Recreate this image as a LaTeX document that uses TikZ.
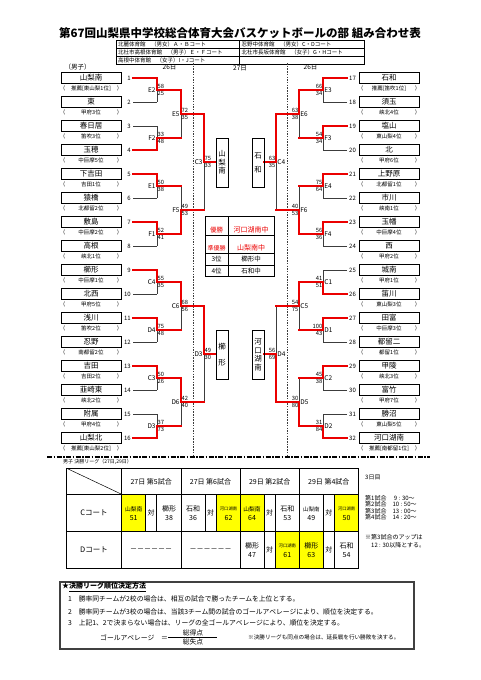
\documentclass[tikz,border=0pt]{standalone}
\usepackage{fontspec}
\setmainfont{Noto Sans CJK JP}
\usetikzlibrary{calc}

\newcommand{\fsz}[1]{\fontsize{#1}{#1}\selectfont}
\definecolor{winRed}{RGB}{235,0,0}
\definecolor{lineGray}{RGB}{60,60,60}
\definecolor{cellYellow}{RGB}{255,255,0}
\pgfdeclarelayer{back}
\pgfsetlayers{back,main}

% one match: vertical at #1, output towards #2, inputs at #3/#4,
% label #5, scores #6/#7, winner #8 (0 top, 1 bottom), red output #9
\newcommand{\game}[9]{%
  \pgfmathsetmacro{\gym}{(#3+#4)/2}%
  \pgfmathsetmacro{\gyw}{#8==0 ? #3 : #4}%
  \begin{pgfonlayer}{back}
    \draw[bline] (#1,#3) -- (#1,#4) (#1,\gym) -- (#2,\gym);
  \end{pgfonlayer}
  \ifnum#9=1
    \draw[rline] (#1,\gyw) -- (#1,\gym) -- (#2,\gym);
  \else
    \draw[rline] (#1,\gyw) -- (#1,\gym);
  \fi
  \ifdim#2pt>#1pt
    \node[glab, anchor=east] (g#5x#1) at (#1-1.2,\gym) {#5};
    \node[gsc, anchor=west] (g#5x#1a) at (#1+0.4,\gym-3.6) {#6};
    \node[gsc, anchor=west] (g#5x#1b) at (#1+0.4,\gym+3.6) {#7};
  \else
    \node[glab, anchor=west] (g#5x#1) at (#1+1.2,\gym) {#5};
    \node[gsc, anchor=east] (g#5x#1a) at (#1-0.4,\gym-3.6) {#6};
    \node[gsc, anchor=east] (g#5x#1b) at (#1-0.4,\gym+3.6) {#7};
  \fi
}

\tikzset{
  bline/.style={draw=lineGray, line width=0.9pt},
  rline/.style={draw=winRed, line width=1.8pt, line cap=rect},
  tline/.style={draw=black, line width=0.8pt},
  teambox/.style={draw=black, line width=0.9pt, minimum width=60pt, minimum height=11.7pt, inner sep=0pt, font=\fsz{7.5}},
  capt/.style={inner sep=0pt, font=\fsz{5.5}},
  tnum/.style={inner sep=0.5pt, font=\fsz{6}},
  glab/.style={inner sep=0pt, font=\fsz{6.5}},
  gsc/.style={inner sep=0pt, font=\fsz{5.8}},
  cbox/.style={draw=black, line width=0.9pt, minimum width=12pt, minimum height=49pt, inner sep=0pt, align=center, font=\fontsize{7.5}{8.5}\selectfont},
  htext/.style={inner sep=0pt, anchor=west, font=\fsz{5.5}},
  ltext/.style={inner sep=0pt, font=\fsz{7}},
}

\begin{document}
\begin{tikzpicture}[x=1pt, y=-1pt, line join=miter]
  \useasboundingbox (0,0) rectangle (481,680);

  % title and venue table
  \node[inner sep=0pt, font=\fsz{11.5}\bfseries] (title) at (240,33) {第67回山梨県中学校総合体育大会バスケットボールの部 組み合わせ表};
  \draw[tline, line width=0.5pt] (116,40) rectangle (364,64.3);
  \draw[tline, line width=0.5pt] (116,48.7) -- (364,48.7) (116,56.7) -- (364,56.7) (239.3,40) -- (239.3,64.3);
  \node[htext] (v1) at (118,44.4) {北麓体育館　（男女）Ａ・Ｂコート};
  \node[htext] (v2) at (241.5,44.4) {忍野中体育館　（男女）C・Dコート};
  \node[htext] (v3) at (118,52.7) {北杜市高根体育館　（男子）Ｅ・Ｆコート};
  \node[htext] (v4) at (241.5,52.7) {北杜市長坂体育館　（女子）G・Hコート};
  \node[htext] (v5) at (118,60.5) {高根中体育館　（女子）I・Jコート};

  % day labels and dashed day borders
  \node[inner sep=0pt, font=\fsz{6.5}] (boys) at (77.5,67) {（男子）};
  \node[inner sep=0pt, font=\fsz{6.5}] (dayL) at (169.5,67.5) {26日};
  \node[inner sep=0pt, font=\fsz{6.5}] (dayC) at (240,68) {27日};
  \node[inner sep=0pt, font=\fsz{6.5}] (dayR) at (310.5,67.5) {26日};
  \draw[lineGray, line width=0.5pt, dash pattern=on 1.5pt off 1.2pt] (193,63) -- (193,455);
  \draw[lineGray, line width=0.5pt, dash pattern=on 1.5pt off 1.2pt] (287,63) -- (287,455);
  \draw[black, line width=1.4pt, dash pattern=on 5pt off 1.5pt on 1.5pt off 1.5pt] (47,457) -- (430,457);

  % left teams
  \foreach \i/\nm/\cp in {1/山梨南/推薦[東山梨1位], 2/東/甲府3位, 3/春日居/笛吹3位, 4/玉穂/中巨摩5位,
      5/下吉田/吉田1位, 6/猿橋/北都留2位, 7/敷島/中巨摩2位, 8/高根/峡北1位,
      9/櫛形/中巨摩1位, 10/北西/甲府5位, 11/浅川/笛吹2位, 12/忍野/南都留2位,
      13/吉田/吉田2位, 14/韮崎東/峡北2位, 15/附属/甲府4位, 16/山梨北/推薦[東山梨2位]}{
    \pgfmathsetmacro{\ty}{78+24*(\i-1)}
    \node[teambox] (t\i) at (91,\ty) {\nm};
    \node[capt] (c\i) at (91,\ty+10.3) {\cp};
    \node[capt] (cl\i) at (62.5,\ty+10.3) {（};
    \node[capt] (cr\i) at (119.5,\ty+10.3) {）};
    \node[tnum, anchor=east] (n\i) at (131.5,\ty) {\i};
    \begin{pgfonlayer}{back}
      \draw[bline] (133,\ty) -- (157,\ty);
    \end{pgfonlayer}
  }

  % right teams
  \foreach \i/\nm/\cp in {17/石和/推薦[笛吹1位], 18/須玉/峡北4位, 19/塩山/東山梨4位, 20/北/甲府6位,
      21/上野原/北都留1位, 22/市川/峡南1位, 23/玉幡/中巨摩4位, 24/西/甲府2位,
      25/城南/甲府1位, 26/笛川/東山梨3位, 27/田富/中巨摩3位, 28/都留二/都留1位,
      29/甲陵/峡北3位, 30/富竹/甲府7位, 31/勝沼/東山梨5位, 32/河口湖南/推薦[南都留1位]}{
    \pgfmathsetmacro{\ty}{78+24*(\i-17)}
    \node[teambox] (t\i) at (389,\ty) {\nm};
    \node[capt] (c\i) at (389,\ty+10.3) {\cp};
    \node[capt] (cl\i) at (360.5,\ty+10.3) {（};
    \node[capt] (cr\i) at (417.5,\ty+10.3) {）};
    \node[tnum, anchor=west] (n\i) at (348.5,\ty) {\i};
    \begin{pgfonlayer}{back}
      \draw[bline] (347,\ty) -- (323,\ty);
    \end{pgfonlayer}
  }

  % winners of the first round
  \foreach \i in {1,4,5,7,9,11,13,16}{
    \pgfmathsetmacro{\ty}{78+24*(\i-1)}
    \draw[rline] (133,\ty) -- (157,\ty);
  }
  \foreach \i in {17,19,21,23,26,27,29,32}{
    \pgfmathsetmacro{\ty}{78+24*(\i-17)}
    \draw[rline] (347,\ty) -- (323,\ty);
  }

  % left bracket
  \game{157}{181}{78}{102}{E2}{58}{25}{0}{1}
  \game{157}{181}{126}{150}{F2}{33}{48}{1}{1}
  \game{157}{181}{174}{198}{E1}{50}{38}{0}{1}
  \game{157}{181}{222}{246}{F1}{52}{41}{0}{1}
  \game{157}{181}{270}{294}{C4}{55}{35}{0}{1}
  \game{157}{181}{318}{342}{D4}{75}{48}{0}{1}
  \game{157}{181}{366}{390}{C3}{50}{26}{0}{1}
  \game{157}{181}{414}{438}{D3}{37}{73}{1}{1}
  \game{181}{204}{90}{138}{E5}{72}{35}{0}{1}
  \game{181}{204}{186}{234}{F5}{49}{53}{1}{1}
  \game{181}{204}{282}{330}{C6}{68}{56}{0}{1}
  \game{181}{204}{378}{426}{D6}{42}{40}{0}{1}
  \game{204}{216}{114}{210}{C3}{75}{33}{0}{1}
  \game{204}{216}{306}{402}{D3}{49}{30}{0}{1}

  % right bracket
  \game{323}{299}{78}{102}{E3}{66}{34}{0}{1}
  \game{323}{299}{126}{150}{F3}{54}{34}{0}{1}
  \game{323}{299}{174}{198}{E4}{75}{64}{0}{1}
  \game{323}{299}{222}{246}{F4}{56}{36}{0}{1}
  \game{323}{299}{270}{294}{C1}{41}{51}{1}{1}
  \game{323}{299}{318}{342}{D1}{100}{43}{0}{1}
  \game{323}{299}{366}{390}{C2}{45}{38}{0}{1}
  \game{323}{299}{414}{438}{D2}{31}{84}{1}{1}
  \game{299}{276}{90}{138}{E6}{63}{38}{0}{1}
  \game{299}{276}{186}{234}{F6}{40}{53}{1}{1}
  \game{299}{276}{282}{330}{C5}{54}{75}{0}{1}
  \game{299}{276}{378}{426}{D5}{30}{80}{1}{1}
  \game{276}{264}{114}{210}{C4}{63}{35}{0}{1}
  \game{276}{264}{306}{402}{D4}{56}{69}{1}{1}

  % finalists
  \node[cbox] (fC3) at (222,162.5) {山\\梨\\南};
  \node[cbox] (fC4) at (258,162.5) {石\\[5.5pt]和};
  \node[cbox] (fD3) at (222,354.5) {櫛\\[8pt]形};
  \node[cbox] (fD4) at (258,354.5) {河\\口\\湖\\南};

  % final ranking
  \draw[tline] (205,216.7) rectangle (274,276.7);
  \draw[tline] (205,235) -- (274,235) (205,253.3) -- (274,253.3) (205,265) -- (274,265) (228.3,216.7) -- (228.3,276.7);
  \node[inner sep=0pt, text=winRed, font=\fsz{6.5}] (r1a) at (216.6,230) {優勝};
  \node[inner sep=0pt, text=winRed, font=\fsz{7}] (r1b) at (251.2,230) {河口湖南中};
  \node[inner sep=0pt, text=winRed, font=\fsz{6}] (r2a) at (216.6,248.3) {準優勝};
  \node[inner sep=0pt, text=winRed, font=\fsz{7}] (r2b) at (251.2,248.3) {山梨南中};
  \node[inner sep=0pt, font=\fsz{6.5}] (r3a) at (216.6,259.3) {3位};
  \node[inner sep=0pt, font=\fsz{6.5}] (r3b) at (251.2,259.3) {櫛形中};
  \node[inner sep=0pt, font=\fsz{6.5}] (r4a) at (216.6,271) {4位};
  \node[inner sep=0pt, font=\fsz{6.5}] (r4b) at (251.2,271) {石和中};

  % final league table
  \node[inner sep=0pt, anchor=west, font=\fsz{5}] (lgcap) at (63,461.7) {男子\ 決勝リーグ（27日,29日）};
  \foreach \x/\ya/\yb in {121.7/494.3/531.7, 216/494.3/531.7, 240/494.3/531.7, 334.3/494.3/531.7,
      275/531.7/568.3, 299.3/531.7/568.3}
    \fill[cellYellow] (\x,\ya) rectangle ++(24,\yb-\ya);
  \draw[tline] (66.7,468.3) rectangle (358.3,568.3);
  \draw[tline] (66.7,494.3) -- (358.3,494.3) (66.7,531.7) -- (358.3,531.7);
  \foreach \x in {121.7,181,240,299.3}
    \draw[tline] (\x,468.3) -- (\x,568.3);
  \foreach \x in {121.7,181,240,299.3}
    \draw[tline, line width=0.5pt] (\x+24,494.3) -- (\x+24,531.7) (\x+35,494.3) -- (\x+35,531.7);
  \foreach \x in {240,299.3}
    \draw[tline, line width=0.5pt] (\x+24,531.7) -- (\x+24,568.3) (\x+35,531.7) -- (\x+35,568.3);
  \draw[tline, line width=0.5pt] (66.7,468.3) -- (121.7,494.3);
  \foreach \x/\hd [count=\k] in {151.2/27日\ 第5試合, 210.5/27日\ 第6試合, 269.7/29日\ 第2試合, 328.8/29日\ 第4試合}
    \node[ltext, font=\fsz{7}] (hd\k) at (\x,481.7) {\hd};
  \node[ltext, font=\fsz{7.5}] (rowC) at (94,513) {Cコート};
  \node[ltext, font=\fsz{7.5}] (rowD) at (94,550) {Dコート};
  \foreach \x/\y/\nm/\sc/\fs [count=\k] in {133.7/513/山梨南/51/5.8, 169/513/櫛形/38/7, 193/513/石和/36/7, 228.5/513/河口湖南/62/4.3,
      252/513/山梨南/64/5.8, 287.3/513/石和/53/7, 311.3/513/山梨南/49/5.5, 346.6/513/河口湖南/50/4.3,
      252/550/櫛形/47/7, 287.3/550/河口湖南/61/4.3, 311.3/550/櫛形/63/7, 346.6/550/石和/54/7}{
    \node[ltext, font=\fsz{\fs}] (lc\k) at (\x,\y-4) {\nm};
    \node[ltext] (ls\k) at (\x,\y+5.3) {\sc};
  }
  \foreach \x/\y [count=\k] in {151.2/513, 210.5/513, 269.7/513, 328.8/513, 269.7/550, 328.8/550}
    \node[ltext] (vs\k) at (\x,\y) {対};
  \node[ltext] (dash1) at (151.2,550) {－－－－－－};
  \node[ltext] (dash2) at (210.5,550) {－－－－－－};

  % third day times
  \node[htext, font=\fsz{6}] (d3) at (365,477.7) {3日目};
  \foreach \g/\t [count=\k] in {1/ 9 : 30～, 2/10 : 50～, 3/13 : 00～, 4/14 : 20～}
    \node[htext, font=\fsz{6}] (tm\k) at (365,492.3+6.2*\k) {第\g 試合　\t};
  \node[htext, font=\fsz{6}] (up1) at (365,537.3) {※第3試合のアップは};
  \node[htext, font=\fsz{6}] (up2) at (371,545.7) {12 : 30以降とする。};

  % ranking rules
  \draw[line width=1.8pt, draw=black!75] (60,581.7) rectangle (414.3,649.3);
  \node[htext, font=\fsz{7}\bfseries] (rule) at (62,587) {★\underline{決勝リーグ順位決定方法}};
  \node[htext, font=\fsz{6.8}] (rule1) at (68,599.3) {1　勝率同チームが2校の場合は、相互の試合で勝ったチームを上位とする。};
  \node[htext, font=\fsz{6.8}] (rule2) at (68,611.7) {2　勝率同チームが3校の場合は、当該3チーム間の試合のゴールアベレージにより、順位を決定する。};
  \node[htext, font=\fsz{6.8}] (rule3) at (68,623.3) {3　上記1、2で決まらない場合は、リーグの全ゴールアベレージにより、順位を決定する。};
  \node[htext, font=\fsz{6.8}] (ga) at (100,637.3) {ゴールアベレージ　＝};
  \node[ltext, font=\fsz{6.8}] (gaTop) at (193,633) {総得点};
  \node[ltext, font=\fsz{6.8}] (gaBot) at (193,642) {総失点};
  \coordinate (barL) at (168,637.5);
  \coordinate (barR) at (217,637.5);
  \draw[black, line width=0.7pt] (barL) -- (barR);
  \node[htext, font=\fsz{5.6}] (ot) at (248,637.3) {※決勝リーグも同点の場合は、延長戦を行い勝敗を決する。};

\end{tikzpicture}
\end{document}
